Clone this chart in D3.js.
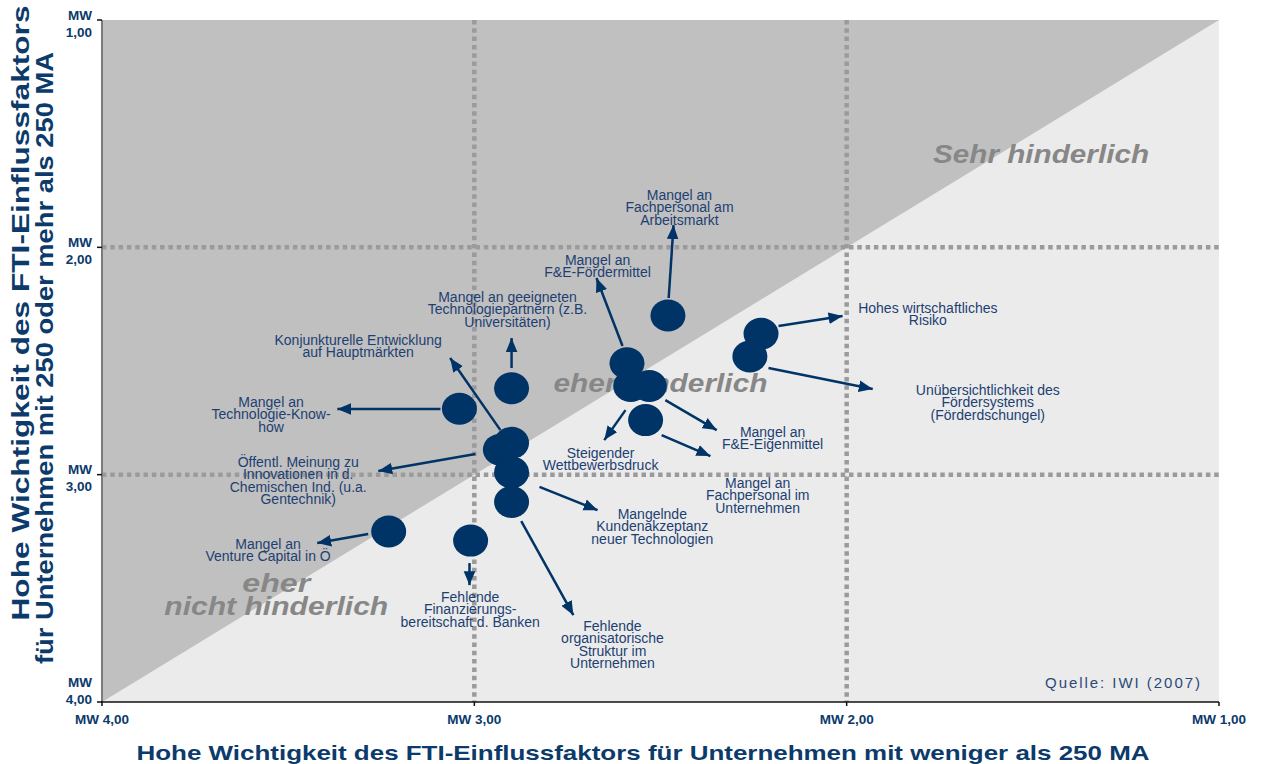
<!DOCTYPE html>
<html>
<head>
<meta charset="utf-8">
<script src="https://cdn.jsdelivr.net/npm/d3@7/dist/d3.min.js"></script>
<style>
  body { margin: 0; background: #fff; }
  text { font-family: "Liberation Sans", Arial, sans-serif; }
</style>
</head>
<body>
<svg id="chart" width="1267" height="764"></svg>
<script>
// Einflussfaktoren (FTI) und Mittelwerte je Unternehmensgröße
const factors = [
  "Mangel an Fachpersonal am Arbeitsmarkt",
  "Hohes wirtschaftliches Risiko",
  "Unübersichtlichkeit des Fördersystems",
  "Mangel an F&E-Fördermittel",
  "Steigender Wettbewerbsdruck",
  "Mangel an F&E-Eigenmittel",
  "Mangel an Fachpersonal im Unternehmen",
  "Mangel an geeigneten Technologiepartnern",
  "Mangel an Technologie-Know-how",
  "Konjunkturelle Entwicklung auf Hauptmärkten",
  "Öffentl. Meinung zu Innovationen",
  "Mangelnde Kundenakzeptanz",
  "Fehlende organisatorische Struktur",
  "Mangel an Venture Capital in Ö",
  "Fehlende Finanzierungsbereitschaft d. Banken"
];
// MW, Unternehmen mit weniger als 250 MA (x)
const mwSmall = [2.48, 2.23, 2.26, 2.59, 2.58, 2.53, 2.54, 2.90, 3.04, 2.93, 2.90, 2.90, 2.90, 3.23, 3.01];
// MW, Unternehmen mit 250 oder mehr MA (y)
const mwLarge = [2.30, 2.38, 2.48, 2.51, 2.61, 2.61, 2.76, 2.62, 2.71, 2.89, 2.86, 2.99, 3.12, 3.25, 3.29];

const xTicks = [4, 3, 2, 1];
const yTicks = [1, 2, 3, 4];
const gridValues = [2, 3];

// Beschriftungen: Textzeilen, Textmitte und Pfeil (in MW-Einheiten)
const callouts = [
  { lines: ["Mangel an", "Fachpersonal am", "Arbeitsmarkt"], at: [2.449, 1.770], from: [2.478, 2.223], to: [2.465, 1.902] },
  { lines: ["Hohes wirtschaftliches", "Risiko"], at: [1.782, 2.267], from: [2.183, 2.346], to: [2.011, 2.302] },
  { lines: ["Unübersichtlichkeit des", "Fördersystems", "(Förderdschungel)"], at: [1.621, 2.628], from: [2.210, 2.531], to: [1.930, 2.623] },
  { lines: ["Mangel an", "F&E-Fördermittel"], at: [2.669, 2.056], from: [2.602, 2.434], to: [2.672, 2.135] },
  { lines: ["Steigender", "Wettbewerbsdruck"], at: [2.661, 2.905], from: [2.594, 2.716], to: [2.651, 2.848] },
  { lines: ["Mangel an", "F&E-Eigenmittel"], at: [2.199, 2.813], from: [2.487, 2.672], to: [2.349, 2.804] },
  { lines: ["Mangel an", "Fachpersonal im", "Unternehmen"], at: [2.239, 3.037], from: [2.497, 2.826], to: [2.366, 2.918] },
  { lines: ["Mangel an geeigneten", "Technologiepartnern (z.B.", "Universitäten)"], at: [2.911, 2.219], from: [2.90, 2.531], to: [2.90, 2.399] },
  { lines: ["Mangel an", "Technologie-Know-", "how"], at: [3.546, 2.681], from: [3.091, 2.711], to: [3.368, 2.711] },
  { lines: ["Konjunkturelle Entwicklung", "auf Hauptmärkten"], at: [3.312, 2.408], from: [2.930, 2.804], to: [3.065, 2.487] },
  { lines: ["Öffentl. Meinung zu", "Innovationen in d.", "Chemischen Ind. (u.a.", "Gentechnik)"], at: [3.473, 2.945], from: [2.997, 2.909], to: [3.258, 2.984] },
  { lines: ["Mangelnde", "Kundenakzeptanz", "neuer Technologien"], at: [2.522, 3.173], from: [2.825, 3.054], to: [2.669, 3.156] },
  { lines: ["Fehlende", "organisatorische", "Struktur im", "Unternehmen"], at: [2.629, 3.666], from: [2.874, 3.204], to: [2.734, 3.618] },
  { lines: ["Mangel an", "Venture Capital in Ö"], at: [3.554, 3.305], from: [3.285, 3.261], to: [3.422, 3.301] },
  { lines: ["Fehlende", "Finanzierungs-", "bereitschaft d. Banken"], at: [3.011, 3.538], from: [3.013, 3.389], to: [3.013, 3.486] }
];

const zones = [
  { lines: ["Sehr hinderlich"], widths: [216], at: [1.478, 1.59] },
  { lines: ["eher hinderlich"], widths: [214], at: [2.50, 2.597] },
  { lines: ["eher", "nicht hinderlich"], widths: [68, 224], at: [3.532, 3.477] }
];

const navy = "#003366";
const textNavy = "#1d3f72";
const fmt = v => "MW " + d3.format(".2f")(v).replace(".", ",");

const svg = d3.select("#chart");
const x = d3.scaleLinear().domain([4, 1]).range([102, 1219]);
const y = d3.scaleLinear().domain([1, 4]).range([20, 702]);

// Hintergrund: hell, darüber das dunkle Dreieck oberhalb der Diagonale
svg.append("rect")
  .attr("x", x(4)).attr("y", y(1))
  .attr("width", x(1) - x(4)).attr("height", y(4) - y(1))
  .attr("fill", "#ebebeb");
svg.append("polygon")
  .attr("points", [[4, 4], [4, 1], [1, 1]].map(d => [x(d[0]), y(d[1])].join(",")).join(" "))
  .attr("fill", "#c0c0c0");

// gestrichelte Rasterlinien
const dash = { stroke: "#9b9b9b", width: 4.5, array: "4.5,3.8" };
svg.selectAll(".vgrid").data(gridValues).join("line")
  .attr("x1", d => x(d)).attr("x2", d => x(d))
  .attr("y1", y(1)).attr("y2", y(4))
  .attr("stroke", dash.stroke).attr("stroke-width", dash.width).attr("stroke-dasharray", dash.array);
svg.selectAll(".hgrid").data(gridValues).join("line")
  .attr("y1", d => y(d)).attr("y2", d => y(d))
  .attr("x1", x(4)).attr("x2", x(1))
  .attr("stroke", dash.stroke).attr("stroke-width", dash.width).attr("stroke-dasharray", dash.array);

// Zonenbeschriftung
zones.forEach(z => {
  const t = svg.append("text")
    .attr("text-anchor", "middle")
    .attr("font-size", 25).attr("font-weight", "bold").attr("font-style", "italic")
    .attr("fill", "#878787");
  z.lines.forEach((l, i) => t.append("tspan")
    .attr("x", x(z.at[0])).attr("y", y(z.at[1]) + i * 23).attr("dy", "0.35em")
    .attr("textLength", z.widths[i]).attr("lengthAdjust", "spacingAndGlyphs")
    .text(l));
});

// Achsen
svg.append("line").attr("x1", x(4)).attr("x2", x(4)).attr("y1", y(1)).attr("y2", y(4))
  .attr("stroke", "#7a7a7a").attr("stroke-width", 2);
svg.append("line").attr("x1", x(4) - 1).attr("x2", x(1)).attr("y1", y(4)).attr("y2", y(4))
  .attr("stroke", "#111").attr("stroke-width", 1.5);

svg.selectAll(".xtick").data(xTicks).join("line")
  .attr("x1", d => x(d)).attr("x2", d => x(d)).attr("y1", y(4)).attr("y2", y(4) + 4)
  .attr("stroke", "#111").attr("stroke-width", 1.5);
svg.selectAll(".ytick").data(yTicks).join("line")
  .attr("x1", x(4) - 5).attr("x2", x(4)).attr("y1", d => y(d)).attr("y2", d => y(d))
  .attr("stroke", "#111").attr("stroke-width", 1.5);

svg.selectAll(".xlab").data(xTicks).join("text")
  .attr("x", d => x(d)).attr("y", y(4)).attr("dy", 21.5)
  .attr("text-anchor", "middle").attr("font-size", 13.5).attr("font-weight", "bold")
  .attr("fill", "#0b3a6b").text(fmt);
// letzte Marke sitzt höher, damit sie nicht mit der x-Beschriftung kollidiert
const yShift = d => (d === 4 ? -15 : 0);
const ylab = svg.selectAll(".ylab").data(yTicks).join("text")
  .attr("text-anchor", "end").attr("font-size", 13.5).attr("font-weight", "bold").attr("fill", "#0b3a6b");
ylab.append("tspan").attr("x", 92).attr("y", d => y(d) - 5 + yShift(d)).attr("dy", "0.35em").text("MW");
ylab.append("tspan").attr("x", 92).attr("y", d => y(d) + 12 + yShift(d)).attr("dy", "0.35em").text(d => fmt(d).slice(3));

// Achsentitel
svg.append("text")
  .attr("x", 643).attr("y", 760).attr("text-anchor", "middle")
  .attr("font-size", 21).attr("font-weight", "bold").attr("fill", "#0b3a6b")
  .attr("textLength", 1013).attr("lengthAdjust", "spacingAndGlyphs")
  .text("Hohe Wichtigkeit des FTI-Einflussfaktors für Unternehmen mit weniger als 250 MA");
const yTitle = ["Hohe Wichtigkeit des FTI-Einflussfaktors", "für Unternehmen mit 250 oder mehr als 250 MA"];
const yTitlePos = [{ cx: 29, cy: 313, len: 615 }, { cx: 53, cy: 358, len: 612 }];
yTitle.forEach((l, i) => {
  svg.append("text")
    .attr("transform", `translate(${yTitlePos[i].cx},${yTitlePos[i].cy}) rotate(-90)`)
    .attr("text-anchor", "middle")
    .attr("font-size", 23).attr("font-weight", "bold").attr("fill", "#0b3a6b")
    .attr("textLength", yTitlePos[i].len).attr("lengthAdjust", "spacingAndGlyphs")
    .text(l);
});

// Pfeilspitze
svg.append("defs").append("marker")
  .attr("id", "head").attr("markerUnits", "userSpaceOnUse")
  .attr("viewBox", "0 0 12 10").attr("refX", 12).attr("refY", 5)
  .attr("markerWidth", 14).attr("markerHeight", 12).attr("orient", "auto")
  .append("path").attr("d", "M0,0 L12,5 L0,10 Z").attr("fill", navy);

svg.selectAll(".arrow").data(callouts).join("line")
  .attr("x1", d => x(d.from[0])).attr("y1", d => y(d.from[1]))
  .attr("x2", d => x(d.to[0])).attr("y2", d => y(d.to[1]))
  .attr("stroke", navy).attr("stroke-width", 2.5).attr("marker-end", "url(#head)");

// Beschriftungen
callouts.forEach(c => {
  const t = svg.append("text")
    .attr("text-anchor", "middle").attr("font-size", 14).attr("fill", textNavy);
  c.lines.forEach((l, i) => t.append("tspan")
    .attr("x", x(c.at[0])).attr("y", y(c.at[1]) + i * 12.4).attr("dy", "0.35em").text(l));
});

// Punkte
svg.selectAll(".dot").data(factors).join("ellipse")
  .attr("cx", (d, i) => x(mwSmall[i])).attr("cy", (d, i) => y(mwLarge[i]))
  .attr("rx", 17.5).attr("ry", 16)
  .attr("fill", navy)
  .append("title").text((d, i) => d);

// Quelle
svg.append("text")
  .attr("x", 1200).attr("y", 688).attr("text-anchor", "end")
  .attr("font-size", 15).attr("fill", "#2c4a78")
  .attr("textLength", 155).attr("lengthAdjust", "spacing")
  .text("Quelle: IWI (2007)");
</script>
</body>
</html>
